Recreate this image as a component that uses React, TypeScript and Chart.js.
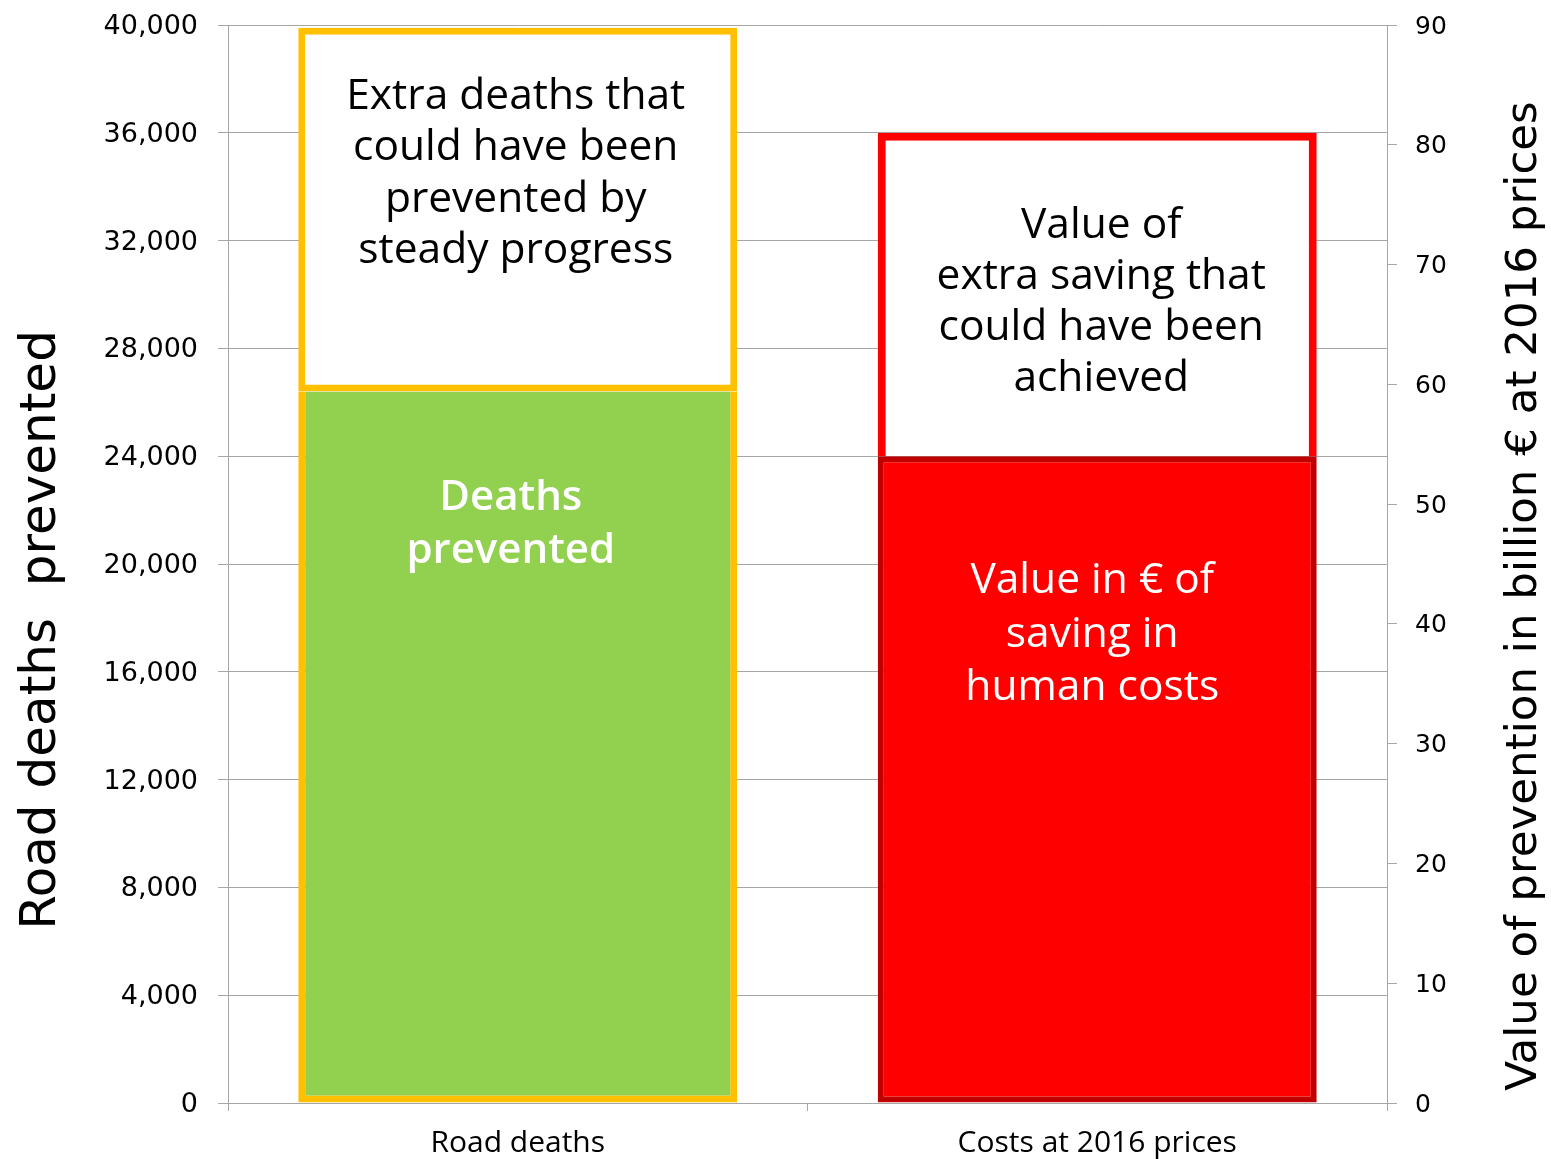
import React, { useEffect, useRef } from "react";
import { Chart, registerables } from "chart.js";

Chart.register(...registerables);

// ---- Data ----
const categories = ["Road deaths", "Costs at 2016 prices"];
const deathsPrevented = [26400, null];
const extraDeaths = [13500, null];
const valueSaving = [null, 54];
const extraSaving = [null, 27];

const leftAxisMax = 40000;
const leftAxisStep = 4000;
const rightAxisMax = 90;
const rightAxisStep = 10;

const leftAxisTitle = "Road deaths  prevented";
const rightAxisTitle = "Value of prevention in billion € at 2016 prices";

const extraDeathsText = ["Extra deaths that", "could have been", "prevented by", "steady progress"];
const deathsPreventedText = ["Deaths", "prevented"];
const extraSavingText = ["Value of", "extra saving that", "could have been", "achieved"];
const valueSavingText = ["Value in € of", "saving in", "human costs"];

const GRID = "#A6A6A6";

const textBlocks = [
  { dataset: 1, index: 0, lines: extraDeathsText, color: "#000000", weight: 400, size: 42.5, dx: -2, dy: 69, lh: 51.5 },
  { dataset: 0, index: 0, lines: deathsPreventedText, color: "#FFFFFF", weight: 600, size: 42, dx: -7, dy: 107, lh: 53 },
  { dataset: 3, index: 1, lines: extraSavingText, color: "#000000", weight: 400, size: 42.5, dx: 4, dy: 93, lh: 51 },
  { dataset: 2, index: 1, lines: valueSavingText, color: "#FFFFFF", weight: 400, size: 42.5, dx: -5, dy: 125, lh: 53.5 },
];

const barTextPlugin = {
  id: "barTexts",
  afterDatasetsDraw(chart: any) {
    const ctx = chart.ctx;
    textBlocks.forEach((b) => {
      const el = chart.getDatasetMeta(b.dataset).data[b.index];
      if (!el) return;
      const { x, y } = el.getProps(["x", "y"], true);
      ctx.save();
      ctx.fillStyle = b.color;
      ctx.font = `${b.weight} ${b.size}px "Open Sans"`;
      ctx.textAlign = "center";
      ctx.textBaseline = "middle";
      b.lines.forEach((line, i) => ctx.fillText(line, x + b.dx, y + b.dy + i * b.lh));
      ctx.restore();
    });
  },
};

const axisTitlePlugin = {
  id: "axisTitles",
  afterDraw(chart: any) {
    const ctx = chart.ctx;
    const area = chart.chartArea;
    ctx.save();
    ctx.fillStyle = "#000000";
    ctx.textAlign = "center";
    ctx.textBaseline = "alphabetic";
    // left title
    ctx.save();
    ctx.font = '50px "DejaVu Sans"';
    ctx.translate(area.left - 173, area.top + 605);
    ctx.rotate(-Math.PI / 2);
    ctx.fillText(leftAxisTitle, 0, 0);
    ctx.restore();
    // right title
    ctx.save();
    ctx.font = '43.5px "DejaVu Sans"';
    ctx.translate(area.right + 149, area.top + 571);
    ctx.rotate(-Math.PI / 2);
    ctx.fillText(rightAxisTitle, 0, 0);
    ctx.restore();
    ctx.restore();
  },
};

const noPad = (s: any) => {
  s.paddingTop = 0;
  s.paddingBottom = 0;
};

export default function App() {
  const canvasRef = useRef<HTMLCanvasElement | null>(null);

  useEffect(() => {
    if (!canvasRef.current) return;
    const chart = new Chart(canvasRef.current, {
      type: "bar",
      data: {
        labels: categories,
        datasets: [
          {
            label: "Deaths prevented",
            data: deathsPrevented,
            yAxisID: "y",
            backgroundColor: "#92D050",
            borderColor: "#FFC000",
            borderWidth: 7,
            borderSkipped: "top",
          },
          {
            label: "Extra deaths that could have been prevented by steady progress",
            data: extraDeaths,
            yAxisID: "y",
            backgroundColor: "#FFFFFF",
            borderColor: "#FFC000",
            borderWidth: 7,
            borderSkipped: false,
          },
          {
            label: "Value in € of saving in human costs",
            data: valueSaving,
            yAxisID: "y1",
            backgroundColor: "#FF0000",
            borderColor: "#C00000",
            borderWidth: 6,
            borderSkipped: false,
          },
          {
            label: "Value of extra saving that could have been achieved",
            data: extraSaving,
            yAxisID: "y1",
            backgroundColor: "#FFFFFF",
            borderColor: "#FF0000",
            borderWidth: 8,
            borderSkipped: "bottom",
          },
        ] as any,
      },
      options: {
        animation: false,
        responsive: false,
        maintainAspectRatio: false,
        layout: { padding: { top: 25, left: 0, right: 0, bottom: 0 } },
        datasets: { bar: { barPercentage: 0.7575, categoryPercentage: 1 } } as any,
        plugins: { legend: { display: false }, tooltip: { enabled: false } },
        scales: {
          x: {
            stacked: true,
            offset: true,
            grid: { display: true, drawOnChartArea: false, drawTicks: true, tickLength: 8, color: GRID, offset: true },
            border: { display: true, color: GRID, width: 1 },
            ticks: { color: "#000000", font: { family: "Open Sans", size: 30 }, padding: 14 },
            afterFit: (s: any) => { s.height = 56; s.paddingLeft = 0; s.paddingRight = 0; },
          },
          y: {
            position: "left",
            stacked: true,
            min: 0,
            max: leftAxisMax,
            grid: { color: GRID, tickLength: 10, drawTicks: true },
            border: { display: true, color: GRID, width: 1 },
            ticks: {
              stepSize: leftAxisStep,
              color: "#000000",
              font: { family: "DejaVu Sans", size: 27 },
              padding: 20,
              labelOffset: 2,
              callback: (v: any) => Number(v).toLocaleString("en-US"),
            },
            afterFit: (s: any) => { s.width = 228; noPad(s); },
          },
          y1: {
            position: "right",
            stacked: true,
            min: 0,
            max: rightAxisMax,
            grid: { drawOnChartArea: false, color: GRID, tickLength: 10, drawTicks: true },
            border: { display: true, color: GRID, width: 1 },
            ticks: {
              stepSize: rightAxisStep,
              color: "#000000",
              font: { family: "DejaVu Sans", size: 25 },
              padding: 18,
              labelOffset: 2,
            },
            afterFit: (s: any) => { s.width = 164; noPad(s); },
          },
        },
      } as any,
      plugins: [barTextPlugin, axisTitlePlugin],
    });
    return () => chart.destroy();
  }, []);

  return (
    <div style={{ position: "absolute", left: 0, top: 0, width: 1551, height: 1159, background: "#FFFFFF" }}>
      <canvas ref={canvasRef} width={1551} height={1159} style={{ display: "block" }} />
    </div>
  );
}
